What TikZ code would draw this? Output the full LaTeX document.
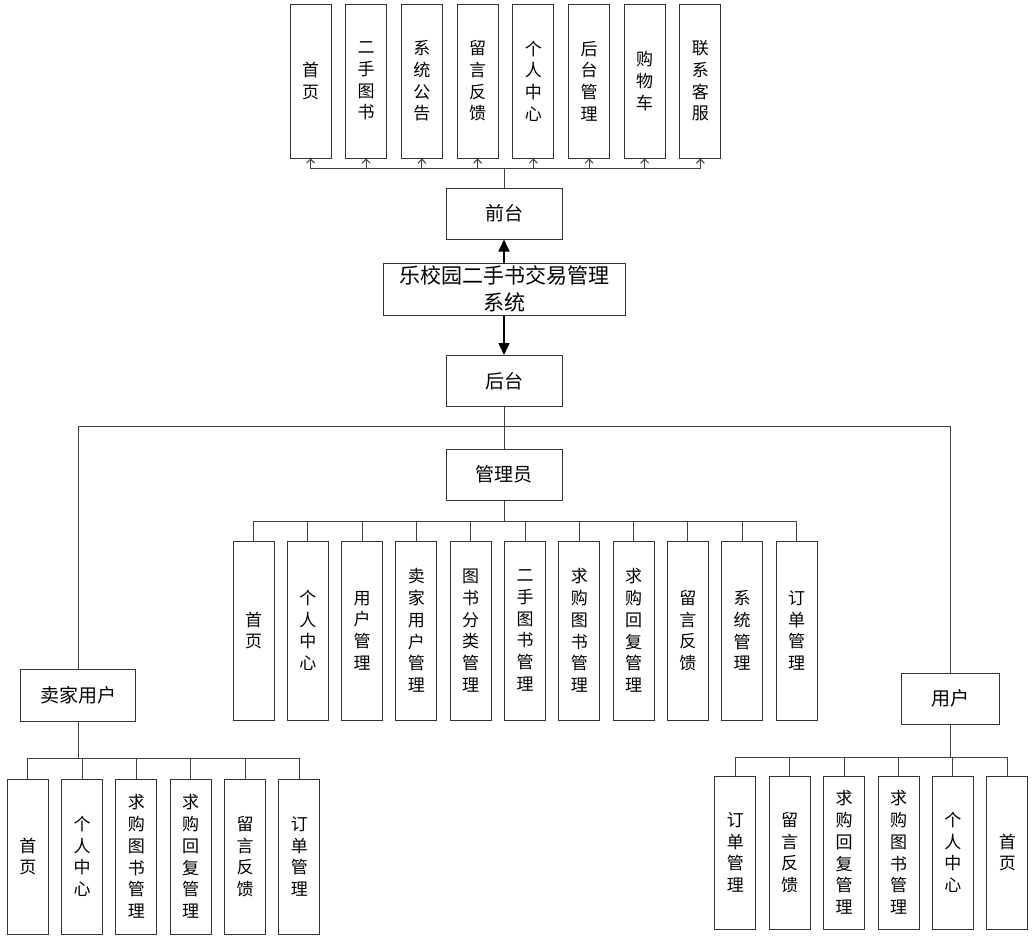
\documentclass[tikz,border=0pt]{standalone}
\usepackage{fontspec}
\setmainfont{Noto Sans CJK SC}
\usetikzlibrary{arrows.meta}

\begin{document}
\begin{tikzpicture}[x=1pt,y=-1pt,
  every node/.style={draw=black!80,line width=1pt,inner sep=0pt,align=center},
  vbox/.style={minimum width=41pt,font=\fontsize{17}{21.7}\selectfont},
  hbox/.style={minimum width=116pt,minimum height=51pt,font=\fontsize{19}{23}\selectfont},
  link/.style={draw=black!75,line width=1pt},
  tarr/.style={link,-{Straight Barb[length=4pt,width=8pt]}},
  bigarr/.style={draw=black,line width=1.6pt,-{Triangle[length=12pt,width=11pt]}}]
\useasboundingbox (0,0) rectangle (1036,945);
% front end
\node[vbox,minimum height=154pt] (t1) at (310.5,81) {首\\页};
\node[vbox,minimum height=154pt] (t2) at (366.2,81) {二\\手\\图\\书};
\node[vbox,minimum height=154pt] (t3) at (421.9,81) {系\\统\\公\\告};
\node[vbox,minimum height=154pt] (t4) at (477.6,81) {留\\言\\反\\馈};
\node[vbox,minimum height=154pt] (t5) at (533.3,81) {个\\人\\中\\心};
\node[vbox,minimum height=154pt] (t6) at (589.0,81) {后\\台\\管\\理};
\node[vbox,minimum height=154pt] (t7) at (644.7,81) {购\\物\\车};
\node[vbox,minimum height=154pt] (t8) at (700.4,81) {联\\系\\客\\服};
\node[hbox] (qt) at (504,213.5) {前台};
\node[minimum width=242pt,minimum height=52pt,font=\fontsize{21}{26.7}\selectfont] (sys) at (504,289) {乐校园二手书交易管理\\系统};
\node[hbox] (ht) at (504,381) {后台};
\node[hbox] (gly) at (504,474.5) {管理员};
% admin
\node[vbox,minimum height=179pt] (a1) at (253.5,630.5) {首\\页};
\node[vbox,minimum height=179pt] (a2) at (307.8,630.5) {个\\人\\中\\心};
\node[vbox,minimum height=179pt] (a3) at (362.1,630.5) {用\\户\\管\\理};
\node[vbox,minimum height=179pt] (a4) at (416.4,630.5) {卖\\家\\用\\户\\管\\理};
\node[vbox,minimum height=179pt] (a5) at (470.7,630.5) {图\\书\\分\\类\\管\\理};
\node[vbox,minimum height=179pt] (a6) at (525.0,630.5) {二\\手\\图\\书\\管\\理};
\node[vbox,minimum height=179pt] (a7) at (579.3,630.5) {求\\购\\图\\书\\管\\理};
\node[vbox,minimum height=179pt] (a8) at (633.6,630.5) {求\\购\\回\\复\\管\\理};
\node[vbox,minimum height=179pt] (a9) at (687.9,630.5) {留\\言\\反\\馈};
\node[vbox,minimum height=179pt] (a10) at (742.2,630.5) {系\\统\\管\\理};
\node[vbox,minimum height=179pt] (a11) at (796.5,630.5) {订\\单\\管\\理};
% seller
\node[hbox,minimum width=115pt,minimum height=52pt] (mj) at (78,695) {卖家用户};
\node[vbox,minimum height=155pt] (s1) at (27.8,856.5) {首\\页};
\node[vbox,minimum height=155pt] (s2) at (82.1,856.5) {个\\人\\中\\心};
\node[vbox,minimum height=155pt] (s3) at (136.4,856.5) {求\\购\\图\\书\\管\\理};
\node[vbox,minimum height=155pt] (s4) at (190.7,856.5) {求\\购\\回\\复\\管\\理};
\node[vbox,minimum height=155pt] (s5) at (245.0,856.5) {留\\言\\反\\馈};
\node[vbox,minimum height=155pt] (s6) at (299.3,856.5) {订\\单\\管\\理};
% user
\node[hbox,minimum width=98pt] (yh) at (950,698.5) {用户};
\node[vbox,minimum height=153pt] (u1) at (735.3,852.5) {订\\单\\管\\理};
\node[vbox,minimum height=153pt] (u2) at (789.7,852.5) {留\\言\\反\\馈};
\node[vbox,minimum height=153pt] (u3) at (844.1,852.5) {求\\购\\回\\复\\管\\理};
\node[vbox,minimum height=153pt] (u4) at (898.5,852.5) {求\\购\\图\\书\\管\\理};
\node[vbox,minimum height=153pt] (u5) at (952.9,852.5) {个\\人\\中\\心};
\node[vbox,minimum height=153pt] (u6) at (1007.3,852.5) {首\\页};
\coordinate (tbus) at (504,168);
\coordinate (hbus) at (504,426);
\coordinate (abus) at (504,521);
\coordinate (sbus) at (78,758);
\coordinate (ubus) at (950,757);
% links
\draw[bigarr] (sys) -- (qt);
\draw[bigarr] (sys) -- (ht);
\draw[tarr] (qt.north) -- (tbus) -| (t1.south);
\draw[tarr] (qt.north) -- (tbus) -| (t2.south);
\draw[tarr] (qt.north) -- (tbus) -| (t3.south);
\draw[tarr] (qt.north) -- (tbus) -| (t4.south);
\draw[tarr] (qt.north) -- (tbus) -| (t5.south);
\draw[tarr] (qt.north) -- (tbus) -| (t6.south);
\draw[tarr] (qt.north) -- (tbus) -| (t7.south);
\draw[tarr] (qt.north) -- (tbus) -| (t8.south);
\draw[link] (ht.south) -- (gly.north);
\draw[link] (ht.south) -- (hbus) -| (mj.north);
\draw[link] (ht.south) -- (hbus) -| (yh.north);
\draw[link] (gly.south) -- (abus) -| (a1.north);
\draw[link] (gly.south) -- (abus) -| (a2.north);
\draw[link] (gly.south) -- (abus) -| (a3.north);
\draw[link] (gly.south) -- (abus) -| (a4.north);
\draw[link] (gly.south) -- (abus) -| (a5.north);
\draw[link] (gly.south) -- (abus) -| (a6.north);
\draw[link] (gly.south) -- (abus) -| (a7.north);
\draw[link] (gly.south) -- (abus) -| (a8.north);
\draw[link] (gly.south) -- (abus) -| (a9.north);
\draw[link] (gly.south) -- (abus) -| (a10.north);
\draw[link] (gly.south) -- (abus) -| (a11.north);
\draw[link] (mj.south) -- (sbus) -| (s1.north);
\draw[link] (mj.south) -- (sbus) -| (s2.north);
\draw[link] (mj.south) -- (sbus) -| (s3.north);
\draw[link] (mj.south) -- (sbus) -| (s4.north);
\draw[link] (mj.south) -- (sbus) -| (s5.north);
\draw[link] (mj.south) -- (sbus) -| (s6.north);
\draw[link] (yh.south) -- (ubus) -| (u1.north);
\draw[link] (yh.south) -- (ubus) -| (u2.north);
\draw[link] (yh.south) -- (ubus) -| (u3.north);
\draw[link] (yh.south) -- (ubus) -| (u4.north);
\draw[link] (yh.south) -- (ubus) -| (u5.north);
\draw[link] (yh.south) -- (ubus) -| (u6.north);
\end{tikzpicture}
\end{document}
